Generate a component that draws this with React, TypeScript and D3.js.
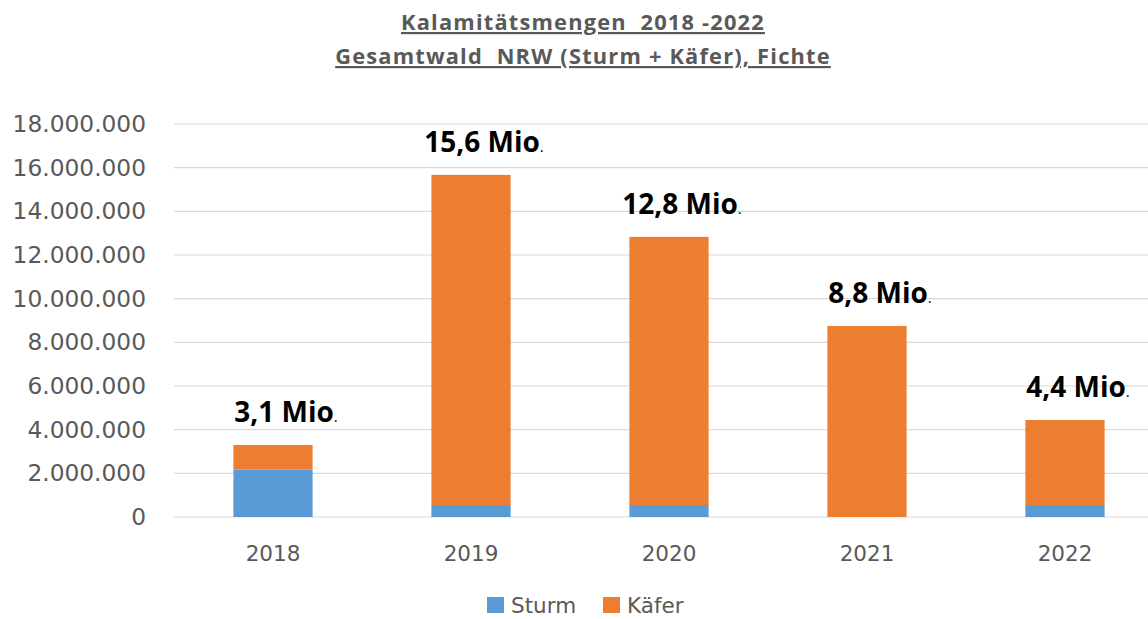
import React from "react";
import * as d3 from "d3";

const years = ["2018", "2019", "2020", "2021", "2022"];
const sturm = [2180000, 550000, 550000, 0, 550000];
const kaefer = [1120000, 15120000, 12280000, 8750000, 3890000];
const totalLabels = ["3,1 Mio", "15,6 Mio", "12,8 Mio", "8,8 Mio", "4,4 Mio"];
const yTicks = [0, 2000000, 4000000, 6000000, 8000000, 10000000, 12000000, 14000000, 16000000, 18000000];
const seriesNames = ["Sturm", "Käfer"];
const titleLines = ["Kalamitätsmengen  2018 -2022", "Gesamtwald  NRW (Sturm + Käfer), Fichte"];

const W = 1148;
const H = 619;
const COLORS = ["#5b9bd5", "#ed7d31"];
const TEXT = "#595959";

export default function App() {
  const x = d3.scaleBand<string>().domain(years).range([174, 1164]).paddingInner(0.6).paddingOuter(0.3);
  const y = d3.scaleLinear().domain([0, 18000000]).range([517, 124]);
  const rows = years.map((yr, i) => ({ year: yr, Sturm: sturm[i], Käfer: kaefer[i] }));
  const stack = d3.stack<any>().keys(seriesNames)(rows);
  const fmt = (v: number) => (v === 0 ? "0" : d3.format(",")(v).replace(/,/g, "."));
  const axisFont = "'DejaVu Sans', sans-serif";

  return (
    <svg width={W} height={H} style={{ position: "absolute", left: 0, top: 0, background: "#fff" }}>
      <rect width={W} height={H} fill="#fff" />
      {titleLines.map((t, i) => (
        <text
          key={t}
          x={583}
          y={30 + i * 34}
          textAnchor="middle"
          fontFamily="'Open Sans', sans-serif"
          fontWeight={700}
          fontSize={21.8}
          letterSpacing={1.2}
          fill={TEXT}
          textDecoration="underline"
          style={{ whiteSpace: "pre" }}
        >
          {t}
        </text>
      ))}
      {yTicks.map((t) => (
        <g key={t}>
          <line x1={174} x2={W} y1={y(t)} y2={y(t)} stroke="#d9d9d9" strokeWidth={1.2} />
          <text x={146} y={y(t) + 8} textAnchor="end" fontFamily={axisFont} fontSize={23.3} fill={TEXT}>
            {fmt(t)}
          </text>
        </g>
      ))}
      {stack.map((s, si) => (
        <g key={s.key}>
          {s.map((d, i) => (
            <rect
              key={i}
              x={x(years[i])!}
              width={x.bandwidth()}
              y={y(d[1])}
              height={Math.max(0, y(d[0]) - y(d[1]))}
              fill={COLORS[si]}
            />
          ))}
        </g>
      ))}
      {years.map((yr, i) => {
        const top = y(sturm[i] + kaefer[i]);
        return (
          <text
            key={yr}
            x={x(yr)! + x.bandwidth() / 2 + 13}
            y={top - 23}
            textAnchor="middle"
            fontFamily="'Open Sans', sans-serif"
            fontWeight={700}
            fontSize={28}
            fill="#000"
          >
            {totalLabels[i]}
            <tspan fontSize={15} fontWeight={400}>.</tspan>
          </text>
        );
      })}
      {years.map((yr) => (
        <text
          key={yr}
          x={x(yr)! + x.bandwidth() / 2}
          y={561}
          textAnchor="middle"
          fontFamily={axisFont}
          fontSize={21.5}
          fill={TEXT}
        >
          {yr}
        </text>
      ))}
      {seriesNames.map((n, i) => {
        const lx = [487, 603][i];
        return (
          <g key={n}>
            <rect x={lx} y={597} width={17} height={16} fill={COLORS[i]} />
            <text x={lx + 24} y={613} fontFamily={axisFont} fontSize={21.5} fill={TEXT}>
              {n}
            </text>
          </g>
        );
      })}
    </svg>
  );
}
